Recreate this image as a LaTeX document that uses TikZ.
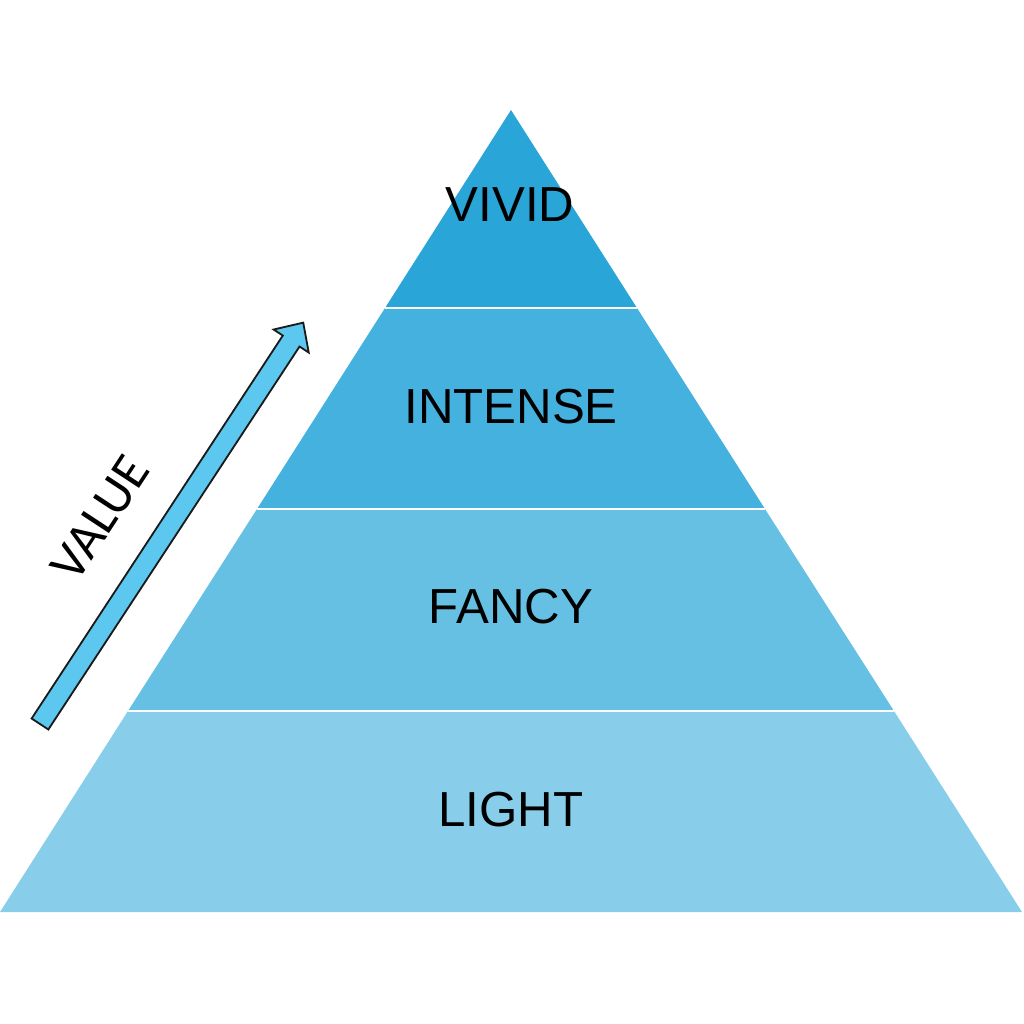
\documentclass[tikz,border=0pt]{standalone}
\usepackage{fontspec}
\setmainfont{Liberation Sans}
\newfontfamily\valuefont{Carlito}
\usepackage{tikz}
\definecolor{bandA}{HTML}{29A5D7}
\definecolor{bandB}{HTML}{45B1DE}
\definecolor{bandC}{HTML}{66C0E3}
\definecolor{bandD}{HTML}{88CEEA}
\definecolor{arrowfill}{HTML}{5CC8EF}
\definecolor{inkgray}{HTML}{1A1A1A}

\begin{document}
\begin{tikzpicture}[x=0.025cm, y=-0.025cm,
	  every node/.append style={inner sep=0pt, text=black},
	  band/.style={draw=none},
	  gap/.style={draw=white, line width=2pt},
	  level/.style={font=\fontsize{35}{40}\selectfont}]
	  \tikzstyle{valuearrow} = [fill=arrowfill, draw=inkgray, line width=1.3pt, line join=miter]
	  \useasboundingbox (0,0) rectangle (1024,1024);
	  \coordinate (apex) at (511,110);
	  \coordinate (l1) at (385,308);  \coordinate (r1) at (637,308);
	  \coordinate (l2) at (257,509);  \coordinate (r2) at (765,509);
	  \coordinate (l3) at (128,711);  \coordinate (r3) at (894,711);
	  \coordinate (l4) at (0,912);    \coordinate (r4) at (1022,912);
	  \fill[band, bandA] (apex) -- (r1) -- (l1) -- cycle;
	  \fill[band, bandB] (l1) -- (r1) -- (r2) -- (l2) -- cycle;
	  \fill[band, bandC] (l2) -- (r2) -- (r3) -- (l3) -- cycle;
	  \fill[band, bandD] (l3) -- (r3) -- (r4) -- (l4) -- cycle;
	  \draw[gap] (l1) -- (r1);
	  \draw[gap] (l2) -- (r2);
	  \draw[gap] (l3) -- (r3);
	  \node (vivid) [level] at (510,205) {VIVID};
	  \node (intense) [level] at (511,407) {INTENSE};
	  \node (fancy) [level] at (511,607) {FANCY};
	  \node (light) [level] at (511,810) {LIGHT};
	  \begin{scope}[shift={(40,724)}, rotate=56.74]
	    \draw[valuearrow] (0,-10) -- (458,-10) -- (458,-21) -- (480,0)
	      -- (458,21) -- (458,10) -- (0,10) -- cycle;
	  \end{scope}
	  \node (value) [rotate=56.74, font=\valuefont\fontsize{37}{44}\selectfont] at (100,518) {VALUE};
	\end{tikzpicture}
\end{document}
